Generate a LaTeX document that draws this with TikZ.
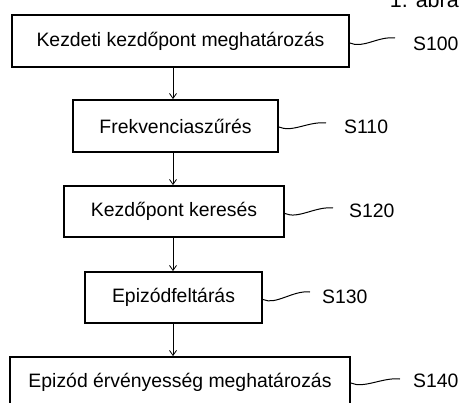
\documentclass[tikz,border=0pt]{standalone}
\usepackage{fontspec}
\setmainfont{Liberation Sans}
\usetikzlibrary{arrows.meta}
\begin{document}
\begin{tikzpicture}[x=1pt,y=-1pt,
  txt/.style={font=\fontsize{19.4}{23}\selectfont},
  box/.style={txt,draw=black,line width=1.8pt,inner sep=0pt},
  lab/.style={txt,anchor=west,inner sep=0pt},
  arr/.style={line width=0.8pt,-{Straight Barb[length=5pt,width=7pt,line width=0.8pt]}},
  wave/.style={line width=1pt}]
\useasboundingbox (0,0) rectangle (462,403);
\node[anchor=base east,inner sep=0pt,font=\fontsize{21.5}{25}\selectfont] (fig) at (459,8) {1. ábra};
\node[box,minimum width=337pt,minimum height=52pt] (b1) at (180.5,41) {Kezdeti kezdőpont meghatározás};
\node[box,minimum width=205pt,minimum height=52pt] (b2) at (175.5,126) {Frekvenciaszűrés};
\node[box,minimum width=220pt,minimum height=51pt] (b3) at (174,211.5) {Kezdőpont keresés};
\node[box,minimum width=177pt,minimum height=51pt] (b4) at (173.5,297.5) {Epizódfeltárás};
\node[box,minimum width=340pt,minimum height=51pt] (b5) at (180,382.5) {Epizód érvényesség meghatározás};
\coordinate (ax) at (173,0);
\draw[arr] (b1.south -| ax) -- (b2.north -| ax);
\draw[arr] (b2.south -| ax) -- (b3.north -| ax);
\draw[arr] (b3.south -| ax) -- (b4.north -| ax);
\draw[arr] (b4.south -| ax) -- (b5.north -| ax);
\node[lab] (s1) at (413,44) {S100};
\node[lab] (s2) at (344,127) {S110};
\node[lab] (s3) at (349,211) {S120};
\node[lab] (s4) at (322,297) {S130};
\node[lab] (s5) at (413,381) {S140};
\coordinate (w1) at (395,38);
\coordinate (w2) at (326,123);
\coordinate (w3) at (333,208);
\coordinate (w4) at (310,292);
\coordinate (w5) at (400,379);
\draw[wave] ([yshift=-2pt]b1.east) .. controls +(13,6) and +(-17,-2) .. (w1);
\draw[wave] ([yshift=-1pt]b2.east) .. controls +(13,6) and +(-17,-2) .. (w2);
\draw[wave] ([yshift=-2pt]b3.east) .. controls +(13,6) and +(-17,-2) .. (w3);
\draw[wave] ([yshift=-2pt]b4.east) .. controls +(13,6) and +(-17,-2) .. (w4);
\draw[wave] (b5.east |- 0,383) .. controls +(13,6) and +(-17,-2) .. (w5);
\end{tikzpicture}
\end{document}
